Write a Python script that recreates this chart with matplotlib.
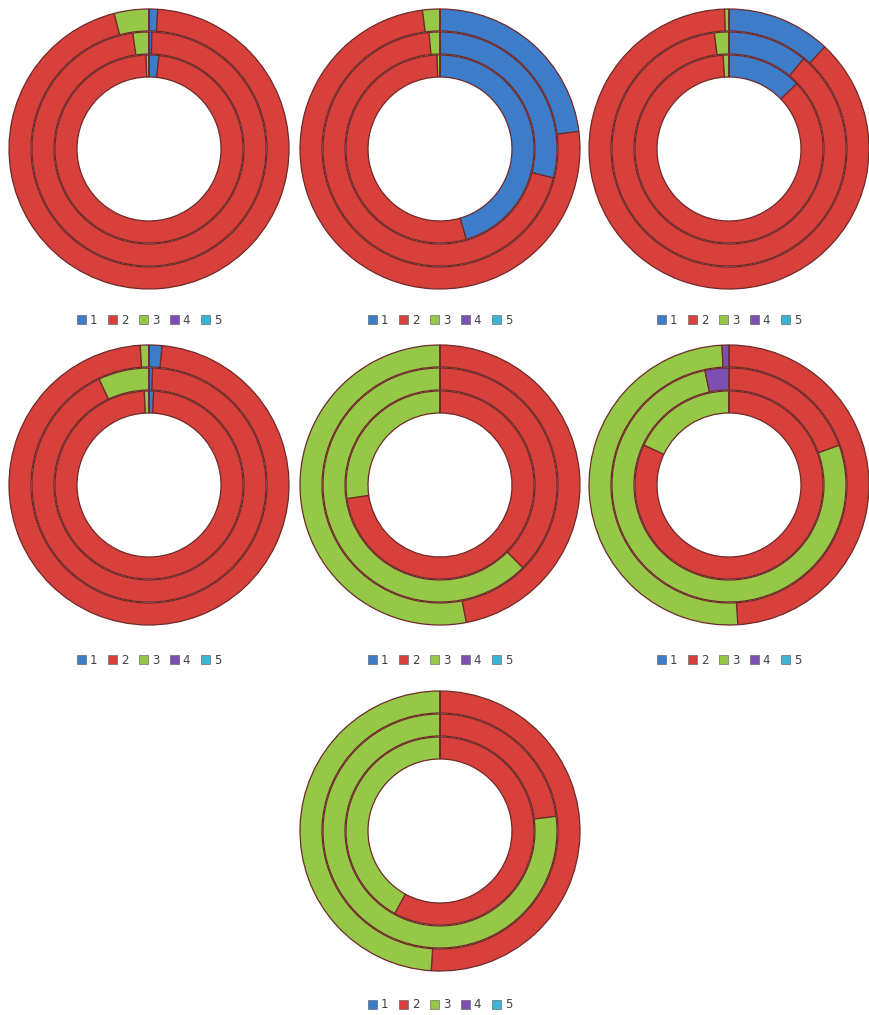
import matplotlib.pyplot as plt
from matplotlib.patches import Patch

categories = ["1", "2", "3", "4", "5"]
colors = ["#3D7CC9", "#D8403C", "#96C847", "#7D4FB3", "#3DB4D6"]

# each chart: outer, middle, inner ring (share of categories 1..5, %)
chart1 = [[1.0, 95.0, 4.0, 0, 0], [0.4, 97.4, 2.2, 0, 0], [1.7, 97.8, 0.5, 0, 0]]
chart2 = [[23.0, 75.0, 2.0, 0, 0], [29.0, 69.5, 1.5, 0, 0], [45.5, 54.0, 0.5, 0, 0]]
chart3 = [[12.0, 87.5, 0.5, 0, 0], [11.0, 87.0, 2.0, 0, 0], [12.8, 86.2, 1.0, 0, 0]]
chart4 = [[1.5, 97.5, 1.0, 0, 0], [0.5, 92.5, 7.0, 0, 0], [0.8, 98.4, 0.8, 0, 0]]
chart5 = [[0, 47.0, 53.0, 0, 0], [0, 37.5, 62.5, 0, 0], [0, 72.7, 27.3, 0, 0]]
chart6 = [[0, 49.0, 50.2, 0.8, 0], [0, 19.5, 77.2, 3.3, 0], [0, 82.0, 18.0, 0, 0]]
chart7 = [[0, 51.0, 49.0, 0, 0], [0, 23.0, 77.0, 0, 0], [0, 58.0, 42.0, 0, 0]]

charts = [chart1, chart2, chart3, chart4, chart5, chart6, chart7]
# chart centres in pixels (x from left, y from top)
centers = [(149, 149), (440, 149), (729, 149),
           (149, 485), (440, 485), (729, 485),
           (440, 831)]
legend_y = [320, 320, 320, 660, 660, 660, 1005]

W, H = 869, 1015
R = 140.0  # outer radius in px
fig = plt.figure(figsize=(W / 100, H / 100), dpi=100)

radii = [140, 117, 94]
ring_w = 22

handles = [Patch(facecolor=c, edgecolor="#555555", linewidth=0.4) for c in colors]

for data, (cx, cy), ly in zip(charts, centers, legend_y):
    ax = fig.add_axes([(cx - 150) / W, (H - cy - 150) / H, 300 / W, 300 / H])
    for vals, r in zip(data, radii):
        ax.pie(vals, colors=colors, radius=r / R, startangle=90, counterclock=False,
               wedgeprops=dict(width=ring_w / R, edgecolor="#6e2a28", linewidth=0.9))
    lim = 150 / R
    ax.set_xlim(-lim, lim)
    ax.set_ylim(-lim, lim)
    ax.set_aspect("equal")
    ax.axis("off")

    fig.legend(handles, categories, loc="center", ncol=5,
               bbox_to_anchor=(cx / W, (H - ly) / H), frameon=False,
               fontsize=8.5, handlelength=0.8, handleheight=0.8,
               handletextpad=0.3, columnspacing=0.9, labelcolor="#404040")

fig.savefig("out.png", dpi=100, facecolor="white")
